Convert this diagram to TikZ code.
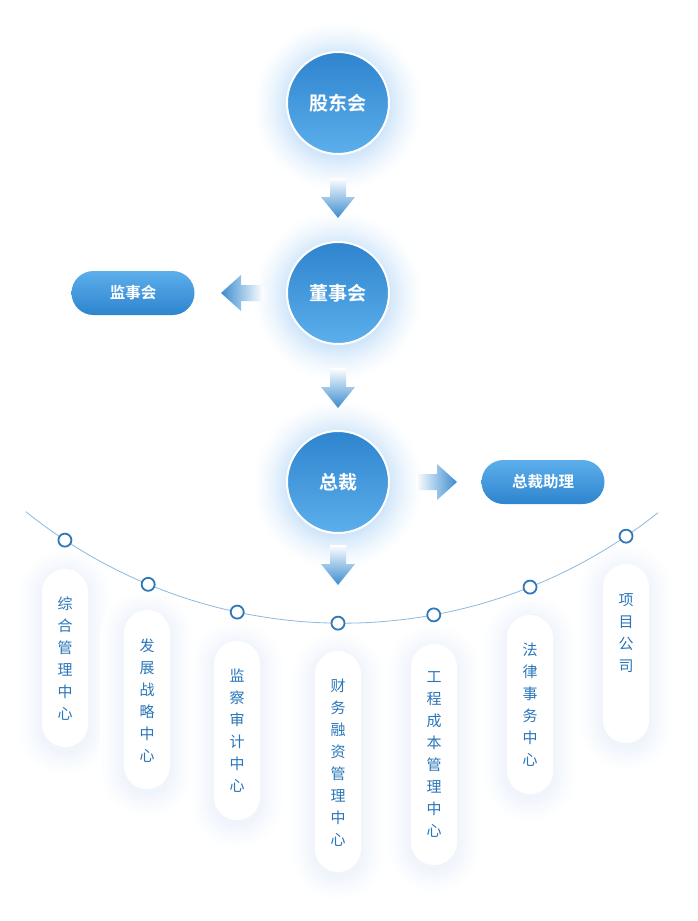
\documentclass[tikz,border=0pt]{standalone}
\usepackage{fontspec}
\newfontfamily\cjk[BoldFont={Noto Sans CJK SC Bold}]{Noto Sans CJK SC}
\usetikzlibrary{calc}
\definecolor{cdark}{HTML}{2E84CE}
\definecolor{clight}{HTML}{5CAFEB}
\definecolor{arrowc}{HTML}{3A8CD0}
\definecolor{txtc}{HTML}{2A76BA}
\definecolor{arcc}{HTML}{8DB9DE}
\definecolor{dotc}{HTML}{2F78B8}
\definecolor{glowc}{HTML}{D0E6FA}
\definecolor{shc}{HTML}{F0F5FC}
\tikzset{
 bigcirc/.style={circle, minimum size=102pt, inner sep=0pt, top color=cdark, bottom color=clight, draw=white, line width=2pt, text=white, font=\cjk\bfseries\fontsize{19pt}{19pt}\selectfont},
 hpill/.style={rectangle, rounded corners=22pt, minimum width=123pt, minimum height=44pt, inner sep=0pt, top color=clight, bottom color=cdark, text=white, font=\cjk\bfseries\fontsize{15.5pt}{15.5pt}\selectfont},
 vpill/.style={rectangle, rounded corners=23pt, minimum width=46pt, inner sep=0pt, fill=white},
 vtext/.style={align=center, text=txtc, inner sep=0pt, anchor=north, font=\cjk\fontsize{15pt}{22pt}\selectfont},
 dot/.style={circle, draw=dotc, line width=1.8pt, fill=white, minimum size=13pt, inner sep=0pt},
 arcline/.style={draw=arcc, line width=0.8pt},
}
\newcommand\cglow[2]{\foreach \k in {36,...,1}{\pgfmathsetmacro\rr{50+\k*1.0}\pgfmathsetmacro\pc{100*((37-\k)/36)^1.5}\fill[glowc!\pc!white] (#1,#2) circle[radius=\rr pt];}}
\newcommand\softbox[4]{\foreach \k in {20,...,1}{\pgfmathsetmacro\ee{\k*1.2}\pgfmathsetmacro\rr{#3/2+\ee}\pgfmathsetmacro\pc{100*((21-\k)/20)^1.2}\fill[shc!\pc!white, rounded corners=\rr pt] ({#1-#3/2-\ee},{#2-\ee+4}) rectangle ({#1+#3/2+\ee},{#2+#4+\ee+4});}}
\begin{document}
\begin{tikzpicture}[x=1pt,y=-1pt]
\useasboundingbox (0,0) rectangle (697,921);
\fill[white] (0,0) rectangle (697,921);
% glows
\cglow{338}{106}
\cglow{338}{296}
\cglow{338}{485}
% pill shadows
\softbox{65}{569}{46}{178}
\softbox{147}{610}{46}{179}
\softbox{237}{641}{46}{179}
\softbox{338}{651}{46}{221}
\softbox{434}{644}{46}{221}
\softbox{530}{615}{46}{179}
\softbox{626}{564}{46}{179}
% main circles
\node[bigcirc] (gd) at (338,103) {股东会};
\node[bigcirc] (ds) at (338,293) {董事会};
\node[bigcirc] (zc) at (338,482) {总裁};
% side pills
\node[hpill] (js) at (133,293) {监事会};
\node[hpill] (zl) at (543,482) {总裁助理};
% down arrows
\foreach \yy in {178,368,545}{
 \shade[top color=white, bottom color=arrowc] (330,\yy) -- (346,\yy) -- (346,\yy+19) -- (355,\yy+19) -- (338,\yy+40) -- (321,\yy+19) -- (330,\yy+19) -- cycle;
}
% left arrow
\shade[left color=arrowc, right color=white] (263,285) -- (241,285) -- (241,275) -- (221,293) -- (241,311) -- (241,301) -- (263,301) -- cycle;
% right arrow
\shade[left color=white, right color=arrowc] (416,474) -- (437,474) -- (437,464) -- (457,482) -- (437,500) -- (437,490) -- (416,490) -- cycle;
% arc
\coordinate (ac) at (342.5,117.7);
\draw[arcline] plot[domain=128.8:51.4, samples=90] ({342.5+505.5*cos(\x)},{117.7+505.5*sin(\x)});
% pills
\node[vpill, minimum height=178pt] (p1) at (65,658) {};
\node[vpill, minimum height=179pt] (p2) at (147,699.5) {};
\node[vpill, minimum height=179pt] (p3) at (237,730.5) {};
\node[vpill, minimum height=221pt] (p4) at (338,761.5) {};
\node[vpill, minimum height=221pt] (p5) at (434,754.5) {};
\node[vpill, minimum height=179pt] (p6) at (530,704.5) {};
\node[vpill, minimum height=179pt] (p7) at (626,653.5) {};
\node[vtext] (t1) at ($(p1.north)+(0,28)$) {综\\合\\管\\理\\中\\心};
\node[vtext] (t2) at ($(p2.north)+(0,29)$) {发\\展\\战\\略\\中\\心};
\node[vtext] (t3) at ($(p3.north)+(0,28)$) {监\\察\\审\\计\\中\\心};
\node[vtext] (t4) at ($(p4.north)+(0,28)$) {财\\务\\融\\资\\管\\理\\中\\心};
\node[vtext] (t5) at ($(p5.north)+(0,28)$) {工\\程\\成\\本\\管\\理\\中\\心};
\node[vtext] (t6) at ($(p6.north)+(0,28)$) {法\\律\\事\\务\\中\\心};
\node[vtext] (t7) at ($(p7.north)+(0,30)$) {项\\目\\公\\司};
% dots on arc
\node[dot] (d1) at ($(ac)+(123.31:505.5)$) {};
\node[dot] (d2) at ($(ac)+(112.61:505.5)$) {};
\node[dot] (d3) at ($(ac)+(102.02:505.5)$) {};
\node[dot] (d4) at ($(ac)+(90.51:505.5)$) {};
\node[dot] (d5) at ($(ac)+(79.6:505.5)$) {};
\node[dot] (d6) at ($(ac)+(68.22:505.5)$) {};
\node[dot] (d7) at ($(ac)+(55.88:505.5)$) {};
\end{tikzpicture}
\end{document}
